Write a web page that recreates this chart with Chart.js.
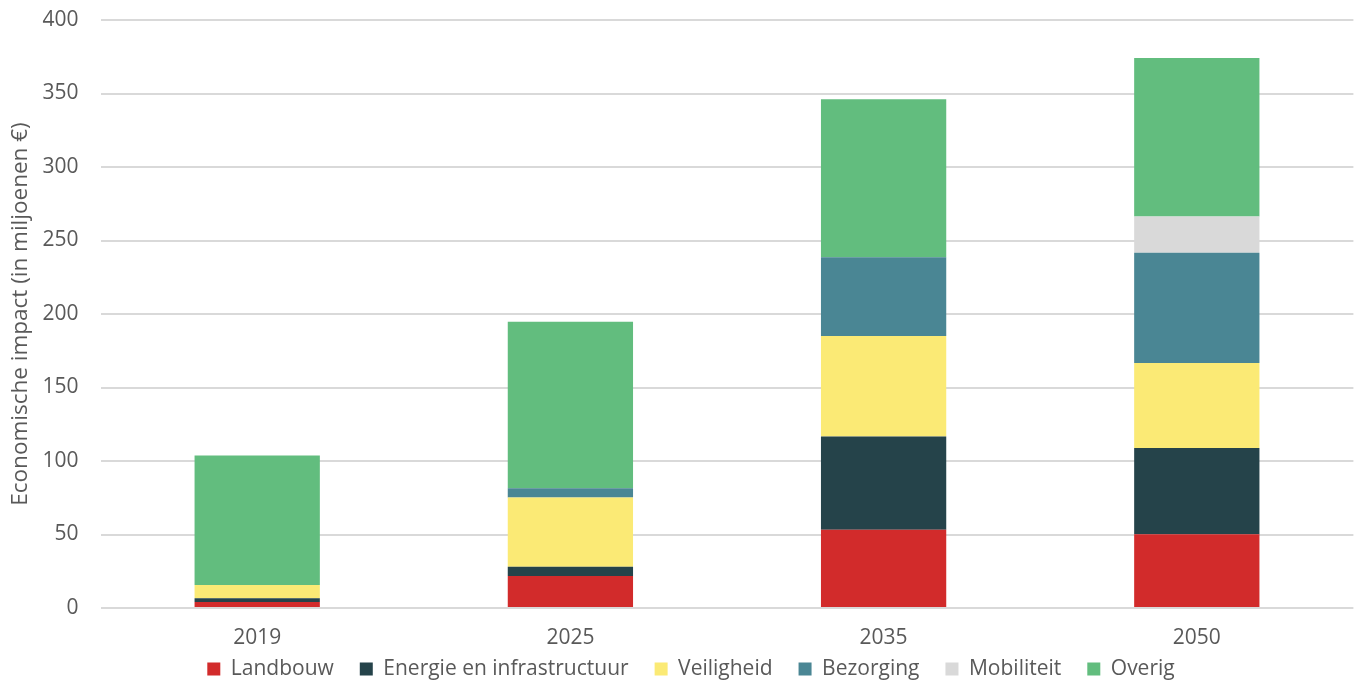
<!DOCTYPE html>
<html>
<head>
<meta charset="utf-8">
<script src="https://cdn.jsdelivr.net/npm/chart.js@4.4.1/dist/chart.umd.min.js"></script>
<style>
  html, body { margin: 0; padding: 0; background: #fff; }
  #wrap { width: 1359px; height: 682px; }
</style>
</head>
<body>
<div id="wrap"><canvas id="impactChart"></canvas></div>
<script>
// Data
const years = ['2019', '2025', '2035', '2050'];
const landbouw = [4, 21.7, 53.2, 50.1];
const energie = [2.6, 6.4, 63.4, 58.7];
const veiligheid = [9, 47.1, 68.4, 57.9];
const bezorging = [0, 6.3, 53.6, 75];
const mobiliteit = [0, 0, 0, 24.7];
const overig = [88.2, 113.3, 107.5, 107.8];
const yTicks = [0, 50, 100, 150, 200, 250, 300, 350, 400];

const textColor = '#595959';
const fontFamily = 'Open Sans, sans-serif';

// x labels sit partly under the legend box, so widen the x-axis clip area
// after layout and nudge the legend a little to the right
const layoutTweak = {
    id: 'layoutTweak',
    afterLayout(chart) {
        const x = chart.scales.x;
        x.bottom = x.top + 48;
        chart.legend.left += 11;
        chart.legend.right += 11;
    }
};

const ctx = document.getElementById('impactChart').getContext('2d');
const chart = new Chart(ctx, {
    type: 'bar',
    data: {
        labels: years,
        datasets: [
            { label: 'Landbouw', data: landbouw, backgroundColor: '#d22b2b' },
            { label: 'Energie en infrastructuur', data: energie, backgroundColor: '#25434a' },
            { label: 'Veiligheid', data: veiligheid, backgroundColor: '#fbea75' },
            { label: 'Bezorging', data: bezorging, backgroundColor: '#4a8694' },
            { label: 'Mobiliteit', data: mobiliteit, backgroundColor: '#d9d9d9' },
            { label: 'Overig', data: overig, backgroundColor: '#62bd7e' }
        ]
    },
    options: {
        responsive: true,
        maintainAspectRatio: false,
        animation: false,
        layout: { padding: { top: 0, right: 5.6, left: 6.6, bottom: -7.5 } },
        datasets: {
            bar: { barPercentage: 0.4, categoryPercentage: 1.0 }
        },
        plugins: {
            legend: {
                position: 'bottom',
                labels: {
                    color: textColor,
                    font: { family: fontFamily, size: 21 },
                    boxWidth: 13,
                    boxHeight: 13,
                    padding: 26
                }
            },
            tooltip: { enabled: false }
        },
        scales: {
            x: {
                stacked: true,
                grid: { display: false },
                border: { display: false },
                ticks: { color: textColor, font: { family: fontFamily, size: 21 }, padding: 9 },
                afterFit: (axis) => { axis.height = 24.5; }
            },
            y: {
                stacked: true,
                min: 0,
                max: 400,
                afterBuildTicks: (axis) => { axis.ticks = yTicks.map(v => ({ value: v })); },
                afterFit: (axis) => {
                    axis.width = 94;
                    axis.paddingTop = 20; // keep top gridline at the same spot as the original
                    axis.paddingBottom = 0;
                },
                grid: { color: '#d9d9d9', lineWidth: 2, drawTicks: false },
                border: { display: false },
                ticks: { color: textColor, font: { family: fontFamily, size: 21 }, padding: 22 },
                title: {
                    display: true,
                    text: 'Economische impact (in miljoenen €)',
                    color: textColor,
                    font: { family: fontFamily, size: 22.5 },
                    padding: 0
                }
            }
        }
    },
    plugins: [layoutTweak]
});
</script>
</body>
</html>
